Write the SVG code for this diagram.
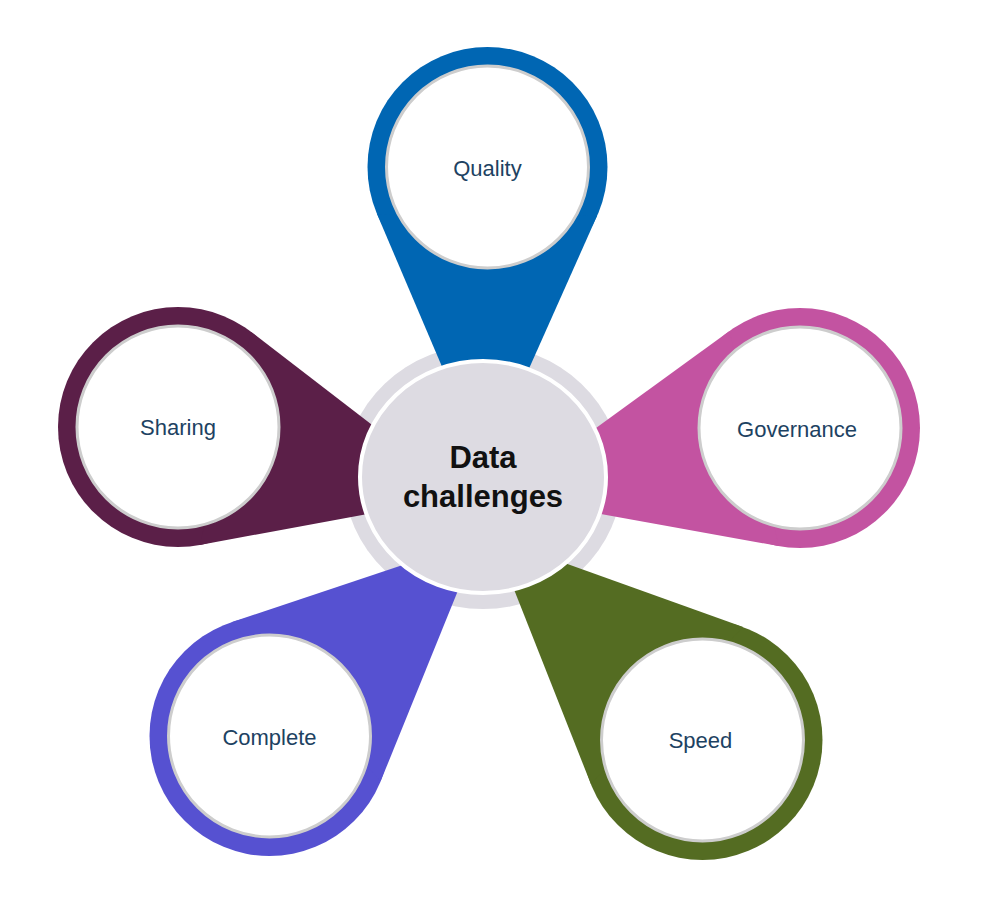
<svg xmlns="http://www.w3.org/2000/svg" width="1000" height="914" viewBox="0 0 1000 914">
<style>
.inner{fill:#ffffff;stroke:#cdcdcd;stroke-width:3}
.lbl{font-family:"Liberation Sans",Arial,sans-serif;font-size:22px;fill:#1d4262;text-anchor:middle}
.title{font-family:"Liberation Sans",Arial,sans-serif;font-size:31px;font-weight:bold;fill:#111111;text-anchor:middle}
</style>
<rect width="1000" height="914" fill="#ffffff"/>
<g id="ring">
<ellipse cx="483" cy="477" rx="139" ry="132" fill="#dddbe2"/>
</g>
<g id="quality">
<g fill="#0066b3"><circle cx="487.5" cy="167" r="120"/><polygon points="377,214 449.8,385 520.8,387 597.1,215.8"/></g>
<circle class="inner" cx="487.5" cy="167" r="101"/>
<text class="lbl" x="487.5" y="176">Quality</text>
</g>
<g id="sharing">
<g fill="#5b1f48"><circle cx="178" cy="427" r="120"/><polygon points="251.2,331.9 386.8,436.3 386.6,510.5 199.7,545"/></g>
<circle class="inner" cx="178" cy="427" r="101"/>
<text class="lbl" x="178" y="435">Sharing</text>
</g>
<g id="governance">
<g fill="#c353a1"><circle cx="800" cy="428" r="120"/><polygon points="729.5,330.9 579.8,439.7 581.4,510.6 778.7,546.1"/></g>
<circle class="inner" cx="800" cy="428" r="101"/>
<text class="lbl" x="797" y="437">Governance</text>
</g>
<g id="complete">
<g fill="#5651d1"><circle cx="269.5" cy="736" r="120"/><polygon points="231.4,622.2 420.7,559.1 466.4,569.8 380.7,781.1"/></g>
<circle class="inner" cx="269.5" cy="736" r="101"/>
<text class="lbl" x="269.5" y="745">Complete</text>
</g>
<g id="speed">
<g fill="#546c22"><circle cx="702.5" cy="740" r="120"/><polygon points="590.9,784.1 505.8,568.8 546.5,556.6 743.1,627.1"/></g>
<circle class="inner" cx="702.5" cy="740" r="101"/>
<text class="lbl" x="700.5" y="748">Speed</text>
</g>
<g id="center">
<ellipse cx="483" cy="477" rx="123" ry="116" fill="#dddbe2" stroke="#ffffff" stroke-width="4"/>
<text class="title" x="483" y="468">Data</text>
<text class="title" x="483" y="507">challenges</text>
</g>
<g id="connectors"></g>
</svg>
